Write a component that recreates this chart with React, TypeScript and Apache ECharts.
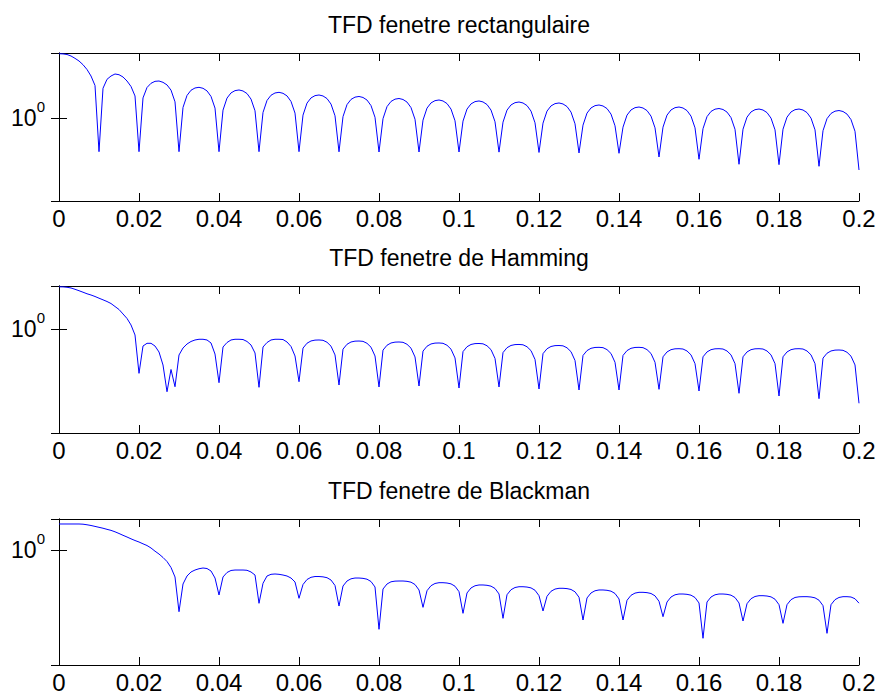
import React, { useEffect, useRef } from "react";
import * as echarts from "echarts";

const FONT = '"Liberation Sans", Arial, Helvetica, sans-serif';

// frequency axis (normalized), one sample every FREQ_STEP
const FREQ_STEP = 0.001;
const X_MIN = 0;
const X_MAX = 0.2;
const X_INTERVAL = 0.02;

const TITLES = [
  "TFD fenetre rectangulaire",
  "TFD fenetre de Hamming",
  "TFD fenetre de Blackman",
];

// |TFD| in dB (20·log10), one value per FREQ_STEP from 0 to 0.2
const rectDb = [
  9.89, 9.86, 9.77, 9.54, 9.18, 8.77, 8.2, 7.46, 6.46, 5.0,
  -5.18, 4.57, 5.95, 6.46, 6.77, 6.66, 6.31, 5.69, 4.85, 3.39,
  -5.18, 3.09, 4.69, 5.34, 5.64, 5.69, 5.49, 5.09, 4.29, 2.49,
  -5.18, 1.62, 3.47, 4.27, 4.62, 4.72, 4.57, 4.17, 3.32, 1.52,
  -5.18, 1.21, 3.06, 3.86, 4.21, 4.31, 4.16, 3.76, 2.91, 1.11,
  -5.18, 0.85, 2.7, 3.5, 3.85, 3.95, 3.8, 3.4, 2.55, 0.75,
  -5.18, 0.44, 2.29, 3.09, 3.44, 3.54, 3.39, 2.99, 2.14, 0.34,
  -5.2, 0.21, 2.06, 2.86, 3.21, 3.31, 3.16, 2.76, 1.91, 0.11,
  -5.23, -0.1, 1.75, 2.55, 2.9, 3.0, 2.85, 2.45, 1.6, -0.2,
  -5.23, -0.33, 1.52, 2.32, 2.67, 2.77, 2.62, 2.22, 1.37, -0.43,
  -5.23, -0.48, 1.37, 2.17, 2.52, 2.62, 2.47, 2.07, 1.22, -0.58,
  -5.25, -0.64, 1.21, 2.01, 2.36, 2.46, 2.31, 1.91, 1.06, -0.74,
  -5.3, -0.79, 1.06, 1.86, 2.21, 2.31, 2.16, 1.76, 0.91, -0.89,
  -5.38, -1.1, 0.75, 1.55, 1.9, 2.0, 1.85, 1.45, 0.6, -1.2,
  -5.43, -1.41, 0.44, 1.24, 1.59, 1.69, 1.54, 1.14, 0.29, -1.51,
  -6.0, -1.41, 0.44, 1.24, 1.59, 1.69, 1.54, 1.14, 0.29, -1.51,
  -6.35, -1.64, 0.21, 1.01, 1.36, 1.46, 1.31, 0.91, 0.06, -1.74,
  -7.12, -1.72, 0.13, 0.93, 1.28, 1.38, 1.23, 0.83, -0.02, -1.82,
  -7.18, -1.72, 0.13, 0.93, 1.28, 1.38, 1.23, 0.83, -0.02, -1.82,
  -7.43, -1.95, -0.1, 0.7, 1.05, 1.15, 1.0, 0.6, -0.25, -2.05,
  -8.0,
];

const hammingDb = [
  6.49, 6.48, 6.42, 6.31, 6.11, 5.89, 5.66, 5.42, 5.23, 5.0,
  4.74, 4.49, 4.23, 3.92, 3.46, 3.0, 2.31, 1.62, 0.62, -0.92,
  -6.82, -2.62, -2.2, -2.2, -2.62, -3.54, -5.54, -9.65, -6.23, -8.88,
  -4.0, -2.92, -2.31, -1.92, -1.69, -1.58, -1.58, -1.69, -2.15, -3.85,
  -8.26, -2.77, -2.08, -1.69, -1.58, -1.58, -1.62, -1.92, -2.46, -3.69,
  -8.97, -2.77, -2.08, -1.69, -1.58, -1.58, -1.62, -2.0, -2.69, -4.15,
  -8.11, -2.94, -2.19, -1.84, -1.71, -1.69, -1.74, -2.04, -2.64, -3.99,
  -8.62, -3.1, -2.35, -2.0, -1.87, -1.85, -1.9, -2.2, -2.8, -4.15,
  -8.92, -3.25, -2.5, -2.15, -2.02, -2.0, -2.05, -2.35, -2.95, -4.3,
  -8.77, -3.4, -2.65, -2.3, -2.17, -2.15, -2.2, -2.5, -3.1, -4.45,
  -9.08, -3.48, -2.73, -2.38, -2.25, -2.23, -2.28, -2.58, -3.18, -4.53,
  -8.92, -3.63, -2.88, -2.53, -2.4, -2.38, -2.43, -2.73, -3.33, -4.68,
  -9.23, -3.79, -3.04, -2.69, -2.56, -2.54, -2.59, -2.89, -3.49, -4.84,
  -9.38, -4.07, -3.32, -2.97, -2.84, -2.82, -2.87, -3.17, -3.77, -5.12,
  -9.38, -4.07, -3.32, -2.97, -2.84, -2.82, -2.87, -3.17, -3.77, -5.12,
  -9.28, -4.28, -3.53, -3.18, -3.05, -3.03, -3.08, -3.38, -3.98, -5.33,
  -9.54, -4.28, -3.53, -3.18, -3.05, -3.03, -3.08, -3.38, -3.98, -5.33,
  -9.89, -4.28, -3.53, -3.18, -3.05, -3.03, -3.08, -3.38, -3.98, -5.33,
  -10.31, -4.28, -3.53, -3.18, -3.05, -3.03, -3.08, -3.38, -3.98, -5.33,
  -10.72, -4.48, -3.73, -3.38, -3.25, -3.23, -3.28, -3.58, -4.18, -5.53,
  -11.43,
];

const blackmanDb = [
  4.0, 4.0, 4.0, 4.0, 4.0, 4.0, 3.97, 3.88, 3.77, 3.63,
  3.49, 3.35, 3.18, 3.02, 2.8, 2.54, 2.26, 2.0, 1.72, 1.46,
  1.23, 0.95, 0.69, 0.31, -0.18, -0.62, -1.15, -1.77, -2.69, -4.15,
  -9.49, -5.23, -4.0, -3.38, -3.08, -2.88, -2.77, -2.85, -3.23, -4.31,
  -6.92, -4.15, -3.46, -3.15, -3.08, -3.08, -3.08, -3.12, -3.38, -3.85,
  -8.2, -5.12, -4.0, -3.74, -3.69, -3.74, -3.85, -4.0, -4.31, -4.92,
  -7.43, -5.31, -4.54, -4.2, -4.08, -4.08, -4.13, -4.26, -4.62, -5.46,
  -8.62, -5.54, -4.77, -4.43, -4.31, -4.31, -4.36, -4.49, -4.85, -5.69,
  -12.2, -6.0, -5.23, -4.89, -4.79, -4.77, -4.77, -4.82, -4.95, -5.31,
  -6.15, -8.82, -6.26, -5.49, -5.15, -5.03, -5.03, -5.08, -5.21, -5.57,
  -6.41, -9.74, -6.61, -5.84, -5.5, -5.38, -5.38, -5.43, -5.56, -5.92,
  -6.76, -10.51, -6.88, -6.11, -5.77, -5.65, -5.65, -5.7, -5.83, -6.19,
  -7.03, -9.38, -7.12, -6.35, -6.01, -5.89, -5.89, -5.94, -6.07, -6.43,
  -7.27, -10.77, -7.38, -6.61, -6.27, -6.15, -6.15, -6.2, -6.33, -6.69,
  -7.53, -10.77, -7.74, -6.97, -6.63, -6.51, -6.51, -6.56, -6.69, -7.05,
  -7.89, -10.26, -8.0, -7.23, -6.89, -6.77, -6.77, -6.82, -6.95, -7.31,
  -8.15, -13.58, -8.0, -7.23, -6.89, -6.77, -6.77, -6.82, -6.95, -7.31,
  -8.15, -10.92, -8.26, -7.49, -7.15, -7.03, -7.03, -7.08, -7.21, -7.57,
  -8.41, -11.28, -8.41, -7.64, -7.3, -7.2, -7.18, -7.18, -7.23, -7.36,
  -7.72, -8.56, -12.82, -8.41, -7.64, -7.3, -7.18, -7.18, -7.23, -7.5,
  -8.18,
];

// y-axis limits of each subplot, in dB
const Y_RANGES_DB = [
  [-12.77, 10.0],
  [-16.0, 6.615],
  [-17.69, 4.769],
];

// layout
const GRID_LEFT = 59;
const GRID_WIDTH = 800;
const GRID_TOPS = [53, 286, 519];
const GRID_HEIGHTS = [148, 147, 146];
const TITLE_X = 459;
const TITLE_Y = [25, 258, 491];

const SERIES_DB = [rectDb, hammingDb, blackmanDb];

const dbToMag = (d: number) => Math.pow(10, d / 20);

export default function App() {
  const ref = useRef<HTMLDivElement>(null);

  useEffect(() => {
    if (!ref.current) return;
    const chart = echarts.init(ref.current, undefined, { renderer: "svg" });

    const black = { color: "#000", width: 1 };
    const grid: any[] = [];
    const xAxis: any[] = [];
    const yAxis: any[] = [];
    const series: any[] = [];
    const graphic: any[] = [];

    for (let k = 0; k < 3; k++) {
      grid.push({
        left: GRID_LEFT,
        width: GRID_WIDTH,
        top: GRID_TOPS[k],
        height: GRID_HEIGHTS[k],
        containLabel: false,
      });
      const xBase = {
        gridIndex: k,
        type: "value",
        min: X_MIN,
        max: X_MAX,
        interval: X_INTERVAL,
        splitLine: { show: false },
        axisLine: { show: true, onZero: false, lineStyle: black },
        axisTick: { show: true, inside: true, length: 8, lineStyle: black },
      };
      xAxis.push({
        ...xBase,
        position: "bottom",
        axisLabel: {
          show: true,
          color: "#000",
          fontSize: 24,
          fontFamily: FONT,
          margin: 5,
        },
      });
      xAxis.push({ ...xBase, position: "top", axisLabel: { show: false } });

      const yBase = {
        gridIndex: k,
        type: "log",
        logBase: 10,
        min: dbToMag(Y_RANGES_DB[k][0]),
        max: dbToMag(Y_RANGES_DB[k][1]),
        splitLine: { show: false },
        minorTick: { show: false },
        axisLine: { show: true, lineStyle: black },
        axisTick: { show: true, inside: true, length: 8, lineStyle: black },
      };
      yAxis.push({
        ...yBase,
        position: "left",
        axisLabel: {
          show: true,
          margin: 14,
          showMinLabel: false,
          showMaxLabel: false,
          formatter: (v: number) => (Math.abs(v - 1) < 1e-6 ? "{b|10}{s|0}" : ""),
          rich: {
            b: { fontSize: 23, lineHeight: 38, fontFamily: FONT, color: "#000" },
            s: {
              fontSize: 15,
              lineHeight: 15,
              fontFamily: FONT,
              color: "#000",
              verticalAlign: "top",
            },
          },
        },
      });
      yAxis.push({ ...yBase, position: "right", axisLabel: { show: false } });

      series.push({
        type: "line",
        xAxisIndex: 2 * k,
        yAxisIndex: 2 * k,
        showSymbol: false,
        symbol: "none",
        animation: false,
        clip: true,
        lineStyle: { color: "#0000ff", width: 1 },
        data: SERIES_DB[k].map((d, i) => [+(i * FREQ_STEP).toFixed(4), dbToMag(d)]),
      });

      graphic.push({
        type: "text",
        x: TITLE_X,
        y: TITLE_Y[k],
        style: {
          text: TITLES[k],
          fill: "#000",
          fontSize: 23,
          fontFamily: FONT,
          textAlign: "center",
          textVerticalAlign: "middle",
        },
      });
    }

    chart.setOption({
      animation: false,
      backgroundColor: "#fff",
      grid,
      xAxis,
      yAxis,
      series,
      graphic,
    });

    return () => chart.dispose();
  }, []);

  return (
    <div
      ref={ref}
      style={{ position: "fixed", left: 0, top: 0, width: 881, height: 700, background: "#fff" }}
    />
  );
}
